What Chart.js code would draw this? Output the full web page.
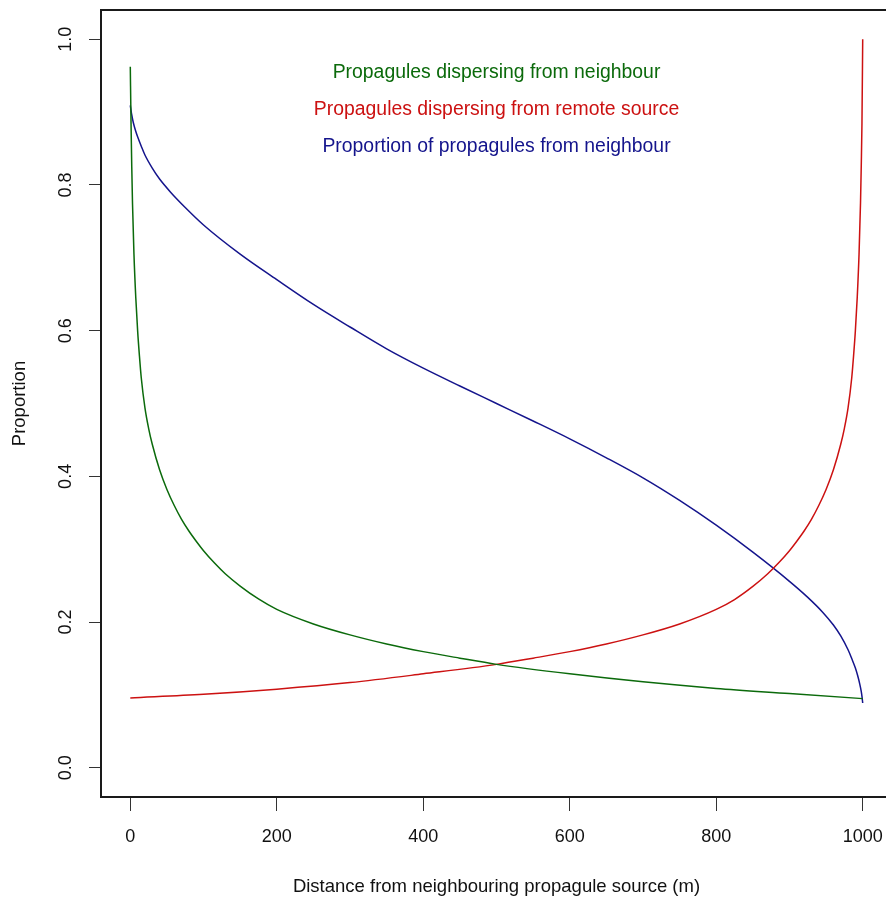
<!DOCTYPE html>
<html>
<head>
<meta charset="utf-8">
<script src="https://cdn.jsdelivr.net/npm/chart.js@4"></script>
<style>
html,body{margin:0;padding:0;background:#fff;overflow:hidden;}
canvas{display:block;}
</style>
</head>
<body>
<canvas id="c" width="892" height="900" style="width:892px;height:900px"></canvas>
<script>
// ---- data ----
const xTickValues = [0, 200, 400, 600, 800, 1000];
const yTickValues = [0.0, 0.2, 0.4, 0.6, 0.8, 1.0];

const neighbourX = [0, 1, 2, 3, 5, 7.5, 10, 12.5, 15, 20, 25, 30, 40, 50, 60, 70, 80, 90, 100, 115, 130, 150, 175, 200, 250, 300, 350, 400, 450, 500, 600, 700, 800, 900, 1000];
const neighbourY = [0.962, 0.885, 0.825, 0.775, 0.705, 0.645, 0.600, 0.565, 0.535, 0.494, 0.466, 0.444, 0.409, 0.382, 0.360, 0.341, 0.325, 0.311, 0.298, 0.281, 0.266, 0.2495, 0.2318, 0.2175, 0.1975, 0.1825, 0.170, 0.1595, 0.1505, 0.142, 0.129, 0.118, 0.109, 0.102, 0.095];

const remoteX = [0, 100, 200, 300, 400, 500, 550, 600, 650, 700, 750, 800, 825, 850, 870, 885, 900, 910, 920, 930, 940, 950, 960, 970, 975, 980, 985, 987.5, 990, 992.5, 995, 997, 998, 999, 1000];
const remoteY = [0.096, 0.101, 0.108, 0.117, 0.129, 0.142, 0.1505, 0.1595, 0.170, 0.1825, 0.1975, 0.2175, 0.231, 0.249, 0.266, 0.281, 0.298, 0.311, 0.325, 0.341, 0.360, 0.382, 0.409, 0.444, 0.466, 0.494, 0.535, 0.565, 0.600, 0.645, 0.705, 0.775, 0.825, 0.885, 1.000];

const proportionX = [0, 1, 2, 4, 7, 10, 15, 20, 30, 40, 55, 75, 100, 150, 200, 250, 300, 350, 400, 450, 500, 550, 600, 650, 700, 750, 800, 850, 900, 925, 945, 960, 970, 980, 985, 990, 993, 996, 998, 999, 1000];
const proportionY = [0.909, 0.902, 0.896, 0.886, 0.875, 0.866, 0.853, 0.841, 0.823, 0.808, 0.790, 0.769, 0.745, 0.705, 0.670, 0.636, 0.605, 0.575, 0.5485, 0.524, 0.500, 0.476, 0.4515, 0.4255, 0.398, 0.367, 0.333, 0.296, 0.256, 0.234, 0.214, 0.196, 0.181, 0.162, 0.150, 0.137, 0.127, 0.115, 0.105, 0.098, 0.089];

const seriesLabels = [
  "Propagules dispersing from neighbour",
  "Propagules dispersing from remote source",
  "Proportion of propagules from neighbour"
];
const xTitle = "Distance from neighbouring propagule source (m)";
const yTitle = "Proportion";

// ---- styling ----
const COLORS = ["#0b6a0b", "#cc1111", "#14148c"];
const FONT = "'Liberation Sans', Arial, Helvetica, sans-serif";

function pts(xs, ys) { return xs.map((x, i) => ({x: x, y: ys[i]})); }

const boxPlugin = {
  id: 'boxAndLegend',
  afterDraw(chart) {
    const ctx = chart.ctx;
    const a = chart.chartArea;
    ctx.save();
    ctx.strokeStyle = '#1a1a1a';
    ctx.lineWidth = 2;
    ctx.beginPath();
    ctx.moveTo(a.left, a.top);
    ctx.lineTo(a.right, a.top);
    ctx.lineTo(a.right, a.bottom);
    ctx.stroke();
    // in-plot legend text
    ctx.font = "19.4px " + FONT;
    ctx.textAlign = 'center';
    ctx.textBaseline = 'middle';
    const cx = chart.scales.x.getPixelForValue(500);
    const ys = [73, 110, 147];
    seriesLabels.forEach((t, i) => {
      ctx.fillStyle = COLORS[i];
      ctx.fillText(t, cx, ys[i]);
    });
    ctx.restore();
  }
};

new Chart(document.getElementById('c'), {
  type: 'line',
  data: {
    datasets: [
      {label: seriesLabels[0], data: pts(neighbourX, neighbourY), borderColor: COLORS[0]},
      {label: seriesLabels[1], data: pts(remoteX, remoteY), borderColor: COLORS[1]},
      {label: seriesLabels[2], data: pts(proportionX, proportionY), borderColor: COLORS[2]}
    ].map(d => Object.assign(d, {borderWidth: 1.5, pointRadius: 0, fill: false, cubicInterpolationMode: 'monotone'}))
  },
  options: {
    responsive: false,
    animation: false,
    layout: {padding: {top: 10, right: 0, bottom: 0, left: 0}},
    plugins: {legend: {display: false}, tooltip: {enabled: false}},
    scales: {
      x: {
        type: 'linear', min: -40, max: 1040,
        afterBuildTicks: s => { s.ticks = xTickValues.map(v => ({value: v})); },
        afterFit: s => { s.height = 103; s.paddingLeft = 0; s.paddingRight = 0; },
        grid: {drawOnChartArea: false, drawTicks: true, tickLength: 14, tickColor: '#333', lineWidth: 1},
        border: {display: true, color: '#1a1a1a', width: 2},
        ticks: {color: '#111', font: {family: FONT, size: 18}, padding: 15, maxRotation: 0, minRotation: 0, autoSkip: false,
                callback: v => String(v)},
        title: {display: true, text: xTitle, color: '#111', font: {family: FONT, size: 18.5}, padding: {top: 0, bottom: 2}}
      },
      y: {
        type: 'linear', min: -0.04, max: 1.04,
        afterBuildTicks: s => { s.ticks = yTickValues.map(v => ({value: v})); },
        afterFit: s => { s.width = 101; s.paddingTop = 0; s.paddingBottom = 0; },
        grid: {drawOnChartArea: false, drawTicks: true, tickLength: 12, tickColor: '#333', lineWidth: 1},
        border: {display: true, color: '#1a1a1a', width: 2},
        ticks: {color: '#111', font: {family: FONT, size: 18}, padding: 10, minRotation: 90, maxRotation: 90, crossAlign: 'center', autoSkip: false,
                callback: v => v.toFixed(1)},
        title: {display: true, text: yTitle, color: '#111', font: {family: FONT, size: 18.5}, padding: {top: 9, bottom: 0}}
      }
    }
  },
  plugins: [boxPlugin]
});
</script>
</body>
</html>
